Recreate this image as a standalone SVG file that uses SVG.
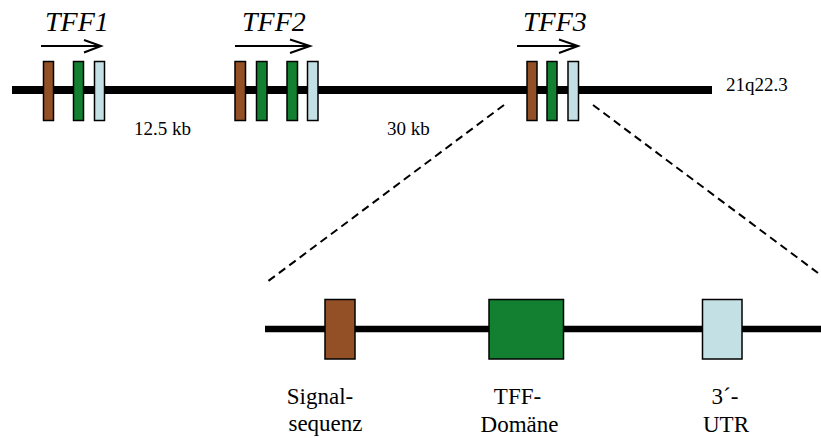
<svg xmlns="http://www.w3.org/2000/svg" width="821" height="438" viewBox="0 0 821 438">
<style>
.chr{stroke:#000;stroke-width:8;fill:none}
.chr2{stroke:#000;stroke-width:6.5;fill:none}
.ex{stroke:#000;stroke-width:1.5}
.sig{fill:#934F26}
.tff{fill:#128030}
.utr{fill:#C3E1E5}
.arr{stroke:#000;stroke-width:2;fill:none}
.dash{stroke:#000;stroke-width:2;stroke-dasharray:8 5;fill:none}
</style>
<rect width="821" height="438" fill="#fff"/>
<g id="connectors">
<line class="dash" x1="504" y1="105" x2="267" y2="282"/>
<line class="dash" x1="593" y1="105" x2="818" y2="273"/>
</g>
<g id="chromosome">
<line class="chr" x1="12" y1="90" x2="712" y2="90"/>
<text x="726" y="91" font-size="19" font-family="Liberation Serif">21q22.3</text>
<text x="134" y="135" font-size="19" font-family="Liberation Serif">12.5 kb</text>
<text x="387" y="135" font-size="19" font-family="Liberation Serif">30 kb</text>
</g>
<g id="TFF1">
<text x="45" y="31" font-size="28" font-style="italic" font-family="Liberation Serif">TFF1</text>
<path class="arr" d="M41 46H101M84 40L101 46L84 52.5"/>
<rect class="ex sig" x="43.5" y="61.5" width="10" height="59"/>
<rect class="ex tff" x="73.5" y="61.5" width="10" height="59"/>
<rect class="ex utr" x="94.5" y="61.5" width="10" height="59"/>
</g>
<g id="TFF2">
<text x="242" y="31" font-size="28" font-style="italic" font-family="Liberation Serif">TFF2</text>
<path class="arr" d="M235 46H310M290 39.5L310 46L290 53"/>
<rect class="ex sig" x="235" y="61.5" width="10.5" height="59"/>
<rect class="ex tff" x="256.5" y="61.5" width="10.5" height="59"/>
<rect class="ex tff" x="287" y="61.5" width="10.5" height="59"/>
<rect class="ex utr" x="307.5" y="61.5" width="10.5" height="59"/>
</g>
<g id="TFF3">
<text x="523" y="31" font-size="28" font-style="italic" font-family="Liberation Serif">TFF3</text>
<path class="arr" d="M517 46H578M559 39.5L578 46L559 53"/>
<rect class="ex sig" x="527" y="61.5" width="10" height="59"/>
<rect class="ex tff" x="547" y="61.5" width="10" height="59"/>
<rect class="ex utr" x="568" y="61.5" width="10.5" height="59"/>
</g>
<g id="detail">
<line class="chr2" x1="265" y1="329" x2="821" y2="329"/>
</g>
<g id="signal">
<rect class="ex sig" x="325" y="299.5" width="30" height="59.5"/>
<text x="320" y="404" font-size="23" text-anchor="middle" font-family="Liberation Serif">Signal-</text>
<text x="325.5" y="431" font-size="23" text-anchor="middle" font-family="Liberation Serif">sequenz</text>
</g>
<g id="tffdomain">
<rect class="ex tff" x="489" y="299.5" width="74.5" height="59.5"/>
<text x="517.5" y="404" font-size="23" text-anchor="middle" font-family="Liberation Serif">TFF-</text>
<text x="519.5" y="432" font-size="23" text-anchor="middle" font-family="Liberation Serif">Domäne</text>
</g>
<g id="utr">
<rect class="ex utr" x="702.5" y="299.5" width="39.5" height="59.5"/>
<text x="725" y="404" font-size="23" text-anchor="middle" font-family="Liberation Serif">3´-</text>
<text x="726" y="432" font-size="23" text-anchor="middle" font-family="Liberation Serif">UTR</text>
</g>
</svg>
